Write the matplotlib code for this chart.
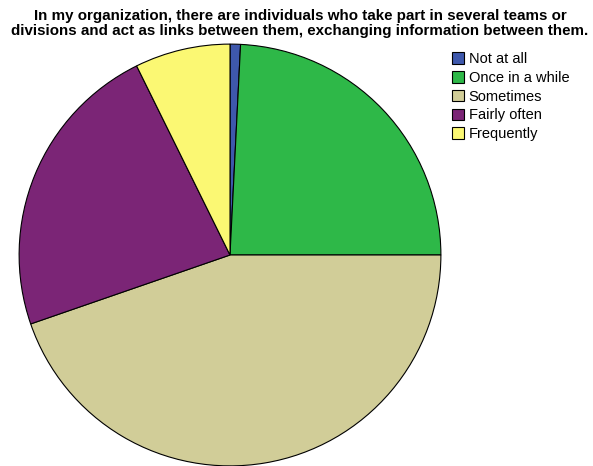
import matplotlib.pyplot as plt
from matplotlib.patches import Patch

plt.rcParams["font.family"] = ["Liberation Sans", "DejaVu Sans"]

categories = ["Not at all", "Once in a while", "Sometimes", "Fairly often", "Frequently"]
percents = [0.8, 24.2, 44.7, 23.0, 7.3]
colors = ["#3e58ac", "#2eb848", "#d1cd98", "#7b2576", "#fbf873"]

fig = plt.figure(figsize=(5.93, 4.66), dpi=100)

# pie axes placed so the circle sits left of the legend
ax = fig.add_axes([17 / 593, -2 / 466, 426 / 593, 426 / 466])
ax.pie(
    percents,
    colors=colors,
    startangle=90,
    counterclock=False,
    radius=1,
    wedgeprops=dict(edgecolor="black", linewidth=0.8),
)
ax.set_xlim(-1.01, 1.01)
ax.set_ylim(-1.01, 1.01)
ax.set_aspect("equal")
ax.axis("off")

fig.text(
    300 / 593,
    1 - 9 / 466,
    "In my organization, there are individuals who take part in several teams or\n"
    "divisions and act as links between them, exchanging information between them.",
    ha="center",
    va="top",
    fontsize=10.9,
    fontweight="bold",
    linespacing=1.05,
)

handles = [Patch(facecolor=c, edgecolor="black", linewidth=0.8) for c in colors]
fig.legend(
    handles,
    categories,
    loc="upper left",
    bbox_to_anchor=(452 / 593, 1 - 52 / 466),
    frameon=False,
    fontsize=10.5,
    handlelength=0.85,
    handleheight=0.85,
    handletextpad=0.3,
    labelspacing=0.33,
    borderpad=0,
    borderaxespad=0,
)

fig.savefig("out.png", dpi=100)
